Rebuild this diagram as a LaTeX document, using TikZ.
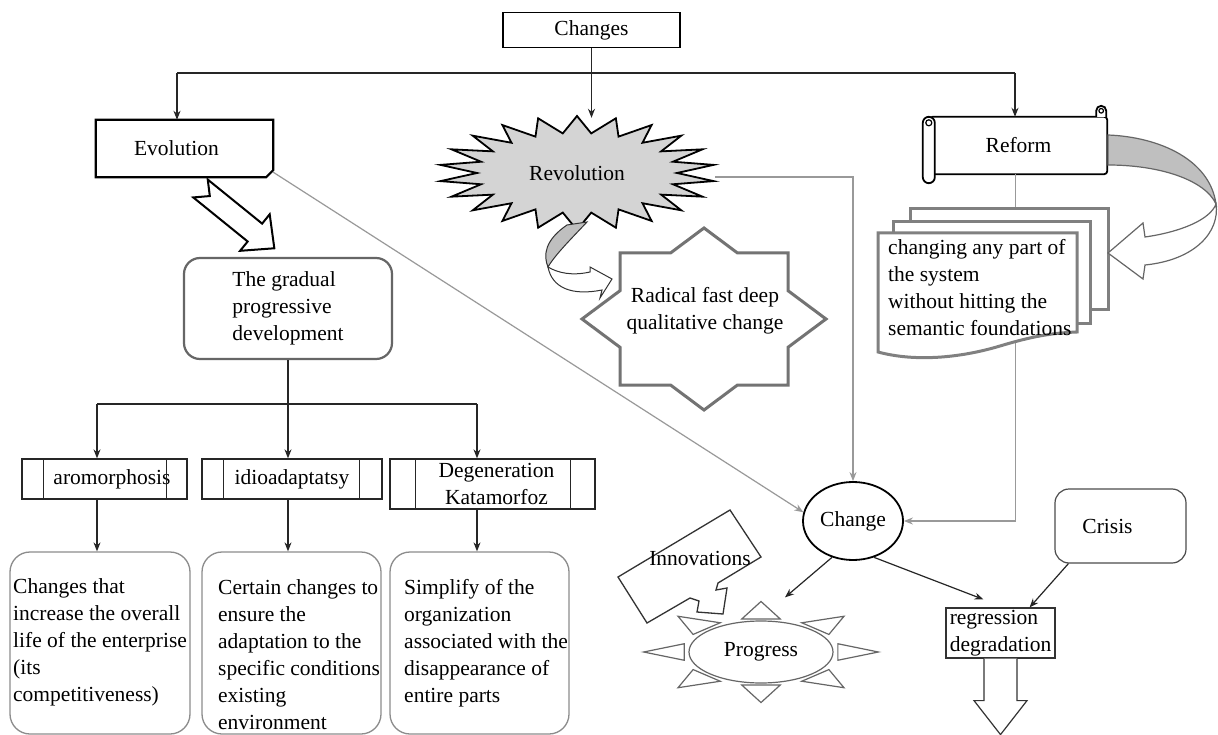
\documentclass[tikz,border=0pt]{standalone}
\usepackage{fontspec}
\setmainfont{Liberation Serif}
\usetikzlibrary{arrows.meta,calc,shapes.geometric}
\begin{document}
\begin{tikzpicture}[x=1pt,y=-1pt,
  txt/.style={font=\fontsize{21.5}{27}\selectfont},
  plain/.style={draw=black!85, line width=1.2pt},
  arr/.style={draw=black!85, line width=1.2pt, -{Stealth[length=9pt,width=7pt]}},
  garr/.style={draw=black!40, line width=1.2pt, -{Stealth[length=9pt,width=7pt]}},
  procbox/.style={draw=black!85, line width=1.3pt, txt, inner sep=0pt},
  roundbox/.style={draw=black!45, line width=1.3pt, rounded corners=20pt, minimum width=180pt, minimum height=182pt},
  docline/.style={draw=black!50, line width=3pt, fill=white, line join=miter},
]
\useasboundingbox (0,0) rectangle (1218,735);
\clip (0,0) rectangle (1218,735);
\fill[white] (0,0) rectangle (1218,735);

% ---------- top ----------
\node[draw, line width=1.5pt, minimum width=177pt, minimum height=35pt, txt] (changes) at (591.5,30) {Changes};
\coordinate (busL) at (177,73);
\coordinate (busR) at (1015,73);

\node[minimum width=177pt, minimum height=57pt, txt, inner sep=0pt] (evolution) at (184.5,148.5) {Evolution\kern16pt};
\draw[line width=2.2pt, line join=miter] (evolution.north west) -- (evolution.north east) -- ([yshift=7pt]evolution.south east) -- ([xshift=-7pt]evolution.south east) -- (evolution.south west) -- cycle;

\node[minimum width=177pt, minimum height=57pt, txt, inner sep=0pt] (reform) at (1018.5,145.5) {Reform};
\draw[line width=1.8pt, rounded corners=3pt] (reform.north west) rectangle (reform.south east);
\draw[line width=1.8pt, fill=white, rounded corners=6pt] ([xshift=-7pt]reform.north west) rectangle ([xshift=5pt,yshift=-9pt]reform.south west);
\draw[line width=1.2pt] ([xshift=-1pt,yshift=-6pt]reform.north west) circle (3pt);
\draw[line width=1.8pt, fill=white] ([xshift=-11pt]reform.north east) -- ([xshift=-11pt,yshift=6pt]reform.north east) arc[start angle=180, end angle=0, radius=5pt] -- ([xshift=-1pt]reform.north east);
\draw[line width=1.2pt] ([xshift=-6pt,yshift=6pt]reform.north east) circle (2.3pt);

% starburst
\draw[line width=1.8pt, fill=black!17, line join=miter]
  ({577+138*cos(8.18)},{173+57*sin(8.18)})
  \foreach \i in {0,...,21} {
    -- ({577+138*cos(\i*16.3636+8.18)},{173+57*sin(\i*16.3636+8.18)})
    -- ({577+100*cos(\i*16.3636+16.36)},{173+40*sin(\i*16.3636+16.36)})
  } -- cycle;
\node[minimum width=276pt, minimum height=110pt, txt, inner sep=0pt] (revolution) at (577,173) {Revolution};

\draw[arr] (changes.south) -- (changes.south |- revolution.north);
\draw[plain] (busL) -- (busR);
\draw[arr] (busL) -- (busL |- evolution.north);
\draw[arr] (busR) -- (busR |- reform.north);

% ---------- Change and long gray connectors ----------
\node[ellipse, draw, line width=1.8pt, fill=white, minimum width=100pt, minimum height=78pt, txt, inner sep=0pt] (change) at (853,521) {Change};
\draw[garr] ([yshift=5pt]evolution.south east) -- (change.170);
\draw[garr] ([yshift=-4pt]revolution.east) -| (change.north);
\draw[garr] ([xshift=-3pt]reform.south) |- (change.east);

% ---------- documents ----------
\draw[docline] (910,209) rectangle (1108,310);
\draw[docline] (893,222) rectangle (1090,323);
\draw[docline] (878,233) -- (1077,233) -- (1077,332) .. controls (1050,333) and (1030,337) .. (1000,346) .. controls (960,358) and (915,362) .. (878,352) -- cycle;
\node[txt, align=left, anchor=west, inner sep=0pt] (docs) at (888,288) {changing any part of\\the system\\without hitting the\\semantic foundations};

% reform curved arrow
\draw[draw=black!60, line width=1.2pt, fill=black!25] (1108,135) .. controls (1160,137) and (1210,160) .. (1216,204) .. controls (1205,180) and (1160,165) .. (1108,165) -- cycle;
\draw[draw=black!60, line width=1.2pt, fill=white, line join=miter] (1216,204) .. controls (1220,232) and (1195,260) .. (1145,265) -- (1143,279) -- (1108,253) -- (1143,223) -- (1145,237) .. controls (1180,232) and (1210,220) .. (1216,204) -- cycle;

% ---------- radical star ----------
\draw[draw=black!55, line width=3pt, fill=white, line join=miter] (704,228) -- (737.5,253) -- (788,253) -- (788,290.7) -- (826,319) -- (788,347.3) -- (788,385) -- (737.5,385) -- (704,410) -- (670.5,385) -- (620,385) -- (620,347.3) -- (582,319) -- (620,290.7) -- (620,253) -- (670.5,253) -- cycle;
\node[txt, align=center, inner sep=0pt] (radical) at (705,311) {Radical fast deep\\qualitative change};

% revolution curved arrow
\draw[draw=black!80, line width=1pt, fill=black!25] (567,225) .. controls (545,240) and (543,255) .. (548,267) .. controls (555,255) and (570,240) .. (587,222) -- cycle;
\draw[draw=black!80, line width=1pt, fill=white, line join=miter] (548,267) .. controls (552,288) and (572,296) .. (602,290) -- (600,298) -- (612,279) -- (590,267) -- (590,272) .. controls (572,276) and (558,273) .. (548,267) -- cycle;

% ---------- evolution branch ----------
\begin{scope}[shift={(200.5,188.5)}, rotate=-39]
  \draw[line width=2pt, fill=white, line join=miter] (0,11.5) -- (70,11.5) -- (70,23.5) -- (95,0) -- (70,-23.5) -- (70,-11.5) -- (0,-11.5) -- (12,0) -- cycle;
\end{scope}

\node[draw=black!60, line width=2.2pt, rounded corners=16pt, minimum width=208pt, minimum height=101pt, txt, align=left, inner sep=0pt] (gradual) at (288,308.5) {The gradual\\progressive\\development};

\node[procbox, minimum width=165pt, minimum height=40pt] (aromorph) at (104.5,479) {\hspace{15pt}aromorphosis};
\draw[plain] ([xshift=22pt]aromorph.north west) -- ([xshift=22pt]aromorph.south west);
\draw[plain] ([xshift=-21pt]aromorph.north east) -- ([xshift=-21pt]aromorph.south east);

\node[procbox, minimum width=180pt, minimum height=40pt] (idio) at (292,479) {idioadaptatsy};
\draw[plain] ([xshift=22pt]idio.north west) -- ([xshift=22pt]idio.south west);
\draw[plain] ([xshift=-23pt]idio.north east) -- ([xshift=-23pt]idio.south east);

\node[procbox, minimum width=205pt, minimum height=50pt, align=center] (degen) at (492.5,484) {\hspace{8pt}Degeneration\\\hspace{8pt}Katamorfoz};
\draw[plain] ([xshift=26pt]degen.north west) -- ([xshift=26pt]degen.south west);
\draw[plain] ([xshift=-25pt]degen.north east) -- ([xshift=-25pt]degen.south east);

\coordinate (b2L) at (97,404);
\coordinate (b2R) at (477,404);
\draw[plain] (b2L) -- (b2R);
\draw[arr] (gradual.south) -- (gradual.south |- idio.north);
\draw[arr] (b2L) -- (b2L |- aromorph.north);
\draw[arr] (b2R) -- (b2R |- degen.north);

\node[roundbox] (box1) at (100,643) {};
\node[roundbox, minimum width=179pt] (box2) at (291.5,643) {};
\node[roundbox, minimum width=179pt] (box3) at (479.5,643) {};
\node[txt, align=left, anchor=west, inner sep=0pt] (box1t) at (13,642) {Changes that\\increase the overall\\life of the enterprise\\(its\\competitiveness)};
\node[txt, align=left, anchor=west, inner sep=0pt] (box2t) at (218,655) {Certain changes to\\ensure the\\adaptation to the\\specific conditions\\existing\\environment};
\node[txt, align=left, anchor=west, inner sep=0pt] (box3t) at (404,643) {Simplify of the\\organization\\associated with the\\disappearance of\\entire parts};

\draw[arr] (b2L |- aromorph.south) -- (b2L |- box1.north);
\draw[arr] (gradual.south |- idio.south) -- (gradual.south |- box2.north);
\draw[arr] (b2R |- degen.south) -- (b2R |- box3.north);

% ---------- bottom right ----------
\node[draw=black!70, line width=1.2pt, rounded corners=14pt, minimum width=131pt, minimum height=74pt, txt] (crisis) at (1120.5,526) {Crisis\kern26pt};
\node[draw=black!80, line width=1.2pt, minimum width=109pt, minimum height=50pt, txt, align=left, inner sep=0pt] (regress) at (1000.5,633) {regression\\degradation};
\draw[black!80, line width=1.2pt, fill=white, line join=miter] ($(regress.south)+(-16.5,0)$) -- ++(0,42) -- ++(-10,0) -- ($(regress.south)+(0,76)$) -- ($(regress.south)+(26.5,42)$) -- ++(-10,0) -- ($(regress.south)+(16.5,0)$);

% progress sun
\foreach \a in {0,45,...,315} {
  \draw[black!60, line width=1.2pt, fill=white, line join=miter]
    ({761+72*1.1*cos(\a-14)},{652-31*1.1*sin(\a-14)}) --
    ({761+72*1.63*cos(\a)},{652-31*1.63*sin(\a)}) --
    ({761+72*1.1*cos(\a+14)},{652-31*1.1*sin(\a+14)}) -- cycle;
}
\node[ellipse, draw=black!60, line width=1.2pt, fill=white, minimum width=144pt, minimum height=62pt, txt, inner sep=0pt] (progress) at (761,652) {Progress};

% innovations
\draw[black!80, line width=1.3pt, fill=white, line join=miter] (618,577) -- (730,510) -- (761,557) -- (718,583) -- (716,590) -- (727,588) -- (723,614) -- (697,612) -- (699,601) -- (690,598) -- (647,623) -- cycle;
\node[txt, inner sep=0pt] (innov) at (700,558) {Innovations};

\draw[arr] (change.240) -- ([shift={(24pt,23pt)}]progress.north);
\draw[arr] (change.300) -- ([shift={(38pt,8pt)}]regress.north west);
\draw[arr] ([xshift=14pt]crisis.south west) -- ([xshift=-26pt]regress.north east);
\end{tikzpicture}
\end{document}
